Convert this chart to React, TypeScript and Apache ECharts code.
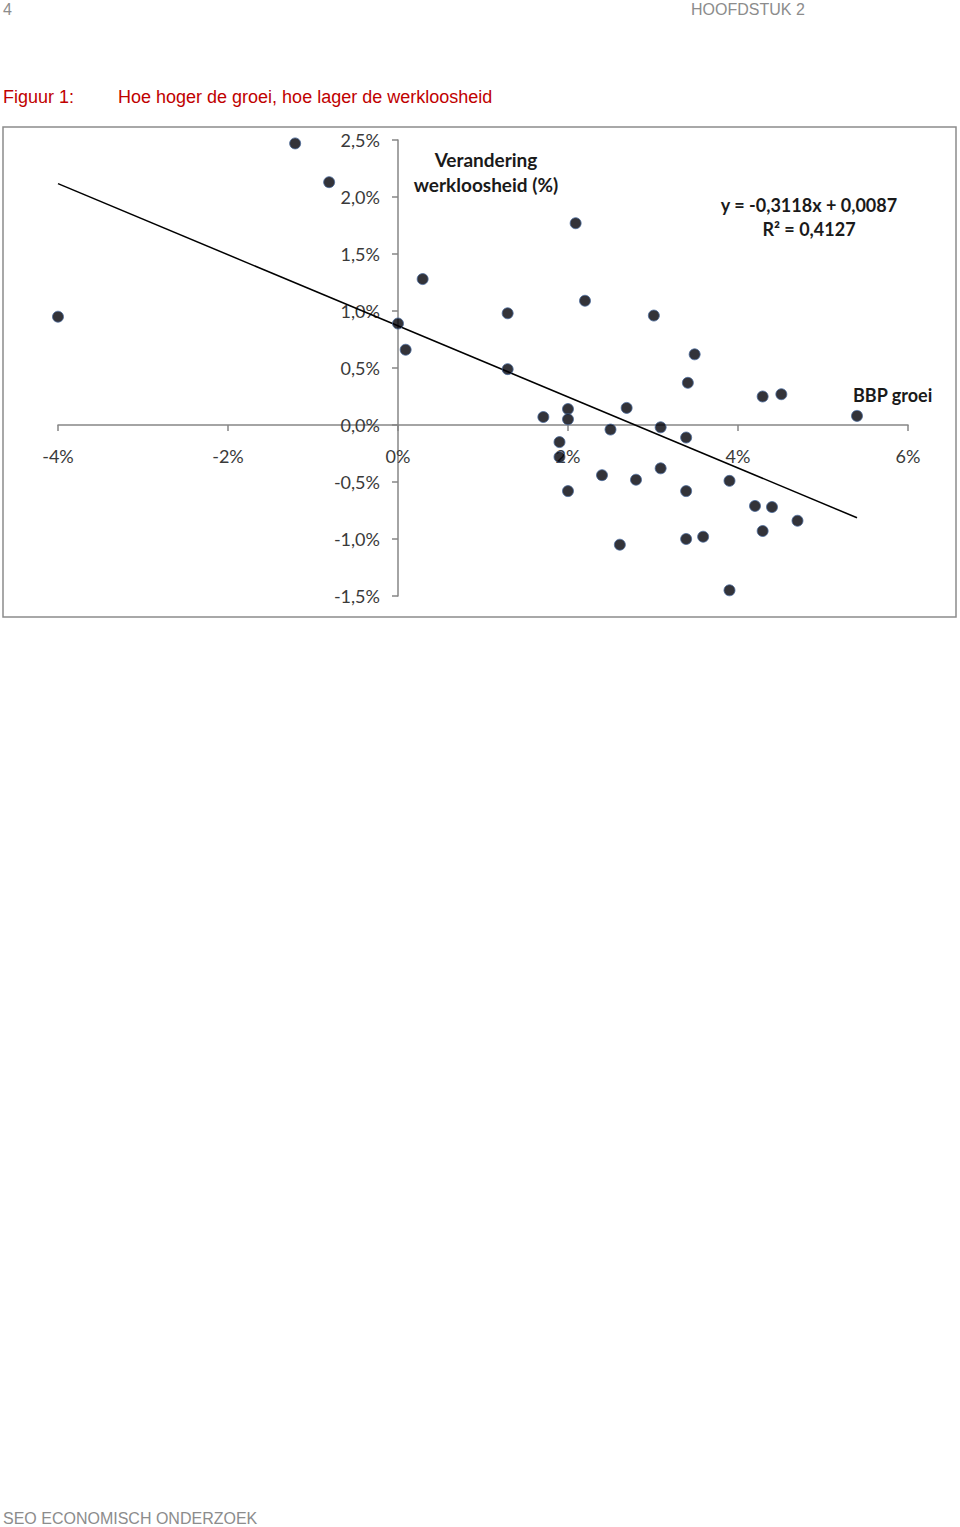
import React, { useEffect, useRef } from "react";
import * as echarts from "echarts";

// Data (percent values)
const gdpGrowth = [
  -4.0, -1.21, -0.81, 0.29, 0.0, 0.09, 1.29, 1.29, 2.09, 2.2, 3.01, 3.49, 3.41,
  4.29, 4.51, 5.4, 1.71, 2.0, 2.0, 2.69, 2.5, 3.09, 3.39, 1.9, 1.9, 2.4, 2.8,
  3.09, 2.0, 3.39, 3.9, 4.2, 4.4, 4.7, 4.29, 2.61, 3.39, 3.59, 3.9,
];
const unemploymentChange = [
  0.95, 2.47, 2.13, 1.28, 0.89, 0.66, 0.98, 0.49, 1.77, 1.09, 0.96, 0.62, 0.37,
  0.25, 0.27, 0.08, 0.07, 0.14, 0.05, 0.15, -0.04, -0.02, -0.11, -0.15, -0.28,
  -0.44, -0.48, -0.38, -0.58, -0.58, -0.49, -0.71, -0.72, -0.84, -0.93, -1.05,
  -1.0, -0.98, -1.45,
];
const trendSlope = -0.3118;
const trendIntercept = 0.0087; // as a fraction
const trendR2 = "0,4127";
const xTicks = { min: -4, max: 6, interval: 2 };
const yTicks = { min: -1.5, max: 2.5, interval: 0.5 };

const GRID = { left: 58, top: 140, width: 850, height: 456 };

const App: React.FC = () => {
  const ref = useRef<HTMLDivElement>(null);

  useEffect(() => {
    if (!ref.current) return;
    const chart = echarts.init(ref.current, undefined, { renderer: "svg" });

    const points = gdpGrowth.map((x, i) => [x, unemploymentChange[i]]);
    const xMin = Math.min(...gdpGrowth);
    const xMax = Math.max(...gdpGrowth);
    const trend = (x: number) => trendSlope * x + trendIntercept * 100;
    const trendData = [
      [xMin, trend(xMin)],
      [xMax, trend(xMax)],
    ];

    // place axes through the origin (with labels following the lines)
    const xAxisOffset =
      -GRID.height * ((0 - yTicks.min) / (yTicks.max - yTicks.min));
    const yAxisOffset =
      -GRID.width * ((0 - xTicks.min) / (xTicks.max - xTicks.min));

    const chartFont = "Lato";
    const axisGray = "#868686";
    const labelColor = "#3a3a3a";

    chart.setOption({
      animation: false,
      backgroundColor: "#ffffff",
      textStyle: { fontFamily: chartFont },
      grid: {
        ...GRID,
        containLabel: false,
        outerBoundsMode: "none",
      },
      xAxis: {
        type: "value",
        position: "bottom",
        offset: xAxisOffset,
        min: xTicks.min,
        max: xTicks.max,
        interval: xTicks.interval,
        axisLine: { show: true, onZero: false, lineStyle: { color: axisGray, width: 1.5 } },
        axisTick: { show: true, length: 6, lineStyle: { color: axisGray, width: 1.5 } },
        splitLine: { show: false },
        axisLabel: {
          margin: 22,
          fontSize: 18,
          color: labelColor,
          fontFamily: chartFont,
          formatter: (v: number) => `${Math.round(v)}%`,
        },
      },
      yAxis: {
        type: "value",
        position: "left",
        offset: yAxisOffset,
        min: yTicks.min,
        max: yTicks.max,
        interval: yTicks.interval,
        axisLine: { show: true, onZero: false, lineStyle: { color: axisGray, width: 1.5 } },
        axisTick: { show: true, length: 6, lineStyle: { color: axisGray, width: 1.5 } },
        splitLine: { show: false },
        axisLabel: {
          margin: 18,
          fontSize: 18,
          color: labelColor,
          fontFamily: chartFont,
          formatter: (v: number) => `${v.toFixed(1).replace(".", ",")}%`,
        },
      },
      series: [
        {
          type: "line",
          data: trendData,
          symbol: "none",
          lineStyle: { color: "#000000", width: 1.5 },
          z: 3,
        },
        {
          type: "scatter",
          data: points,
          symbol: "circle",
          symbolSize: 11,
          itemStyle: { color: "#000008", borderColor: "#4a6a9c", borderWidth: 1 },
          z: 4,
        },
      ],
      graphic: [
        {
          type: "text",
          left: 3,
          top: 1,
          style: { text: "4", fontSize: 16, fill: "#8c8c8c", fontFamily: "Liberation Sans" },
        },
        {
          type: "text",
          left: 691,
          top: 1,
          style: { text: "HOOFDSTUK 2", fontSize: 16, fill: "#8c8c8c", fontFamily: "Liberation Sans" },
        },
        {
          type: "text",
          left: 3,
          top: 88,
          style: { text: "Figuur 1:", fontSize: 18, fill: "#c00000", fontFamily: "Liberation Sans" },
        },
        {
          type: "text",
          left: 118,
          top: 88,
          style: {
            text: "Hoe hoger de groei, hoe lager de werkloosheid",
            fontSize: 18,
            fill: "#c00000",
            fontFamily: "Liberation Sans",
          },
        },
        {
          type: "rect",
          shape: { x: 3, y: 127, width: 953, height: 490 },
          style: { fill: "none", stroke: "#8c8c8c", lineWidth: 1.5 },
          z: -1,
        },
        {
          type: "text",
          x: 486,
          y: 147,
          style: {
            text: "Verandering\nwerkloosheid (%)",
            fontSize: 19,
            fontWeight: "bold",
            fill: "#1a1a1a",
            fontFamily: chartFont,
            align: "center",
            lineHeight: 25,
          },
        },
        {
          type: "text",
          x: 809,
          y: 193,
          style: {
            text: `y = ${trendSlope.toFixed(4).replace(".", ",")}x + ${trendIntercept
              .toFixed(4)
              .replace(".", ",")}\nR² = ${trendR2}`,
            fontSize: 18,
            fontWeight: "bold",
            fill: "#1a1a1a",
            fontFamily: chartFont,
            align: "center",
            lineHeight: 24,
          },
        },
        {
          type: "text",
          x: 853,
          y: 386,
          style: {
            text: "BBP groei",
            fontSize: 18,
            fontWeight: "bold",
            fill: "#1a1a1a",
            fontFamily: chartFont,
          },
        },
        {
          type: "text",
          left: 3,
          top: 1510,
          style: {
            text: "SEO ECONOMISCH ONDERZOEK",
            fontSize: 16,
            fill: "#8c8c8c",
            fontFamily: "Liberation Sans",
          },
        },
      ],
    });

    return () => chart.dispose();
  }, []);

  return (
    <div
      ref={ref}
      style={{ position: "absolute", left: 0, top: 0, width: 960, height: 1527 }}
    />
  );
};

export default App;
